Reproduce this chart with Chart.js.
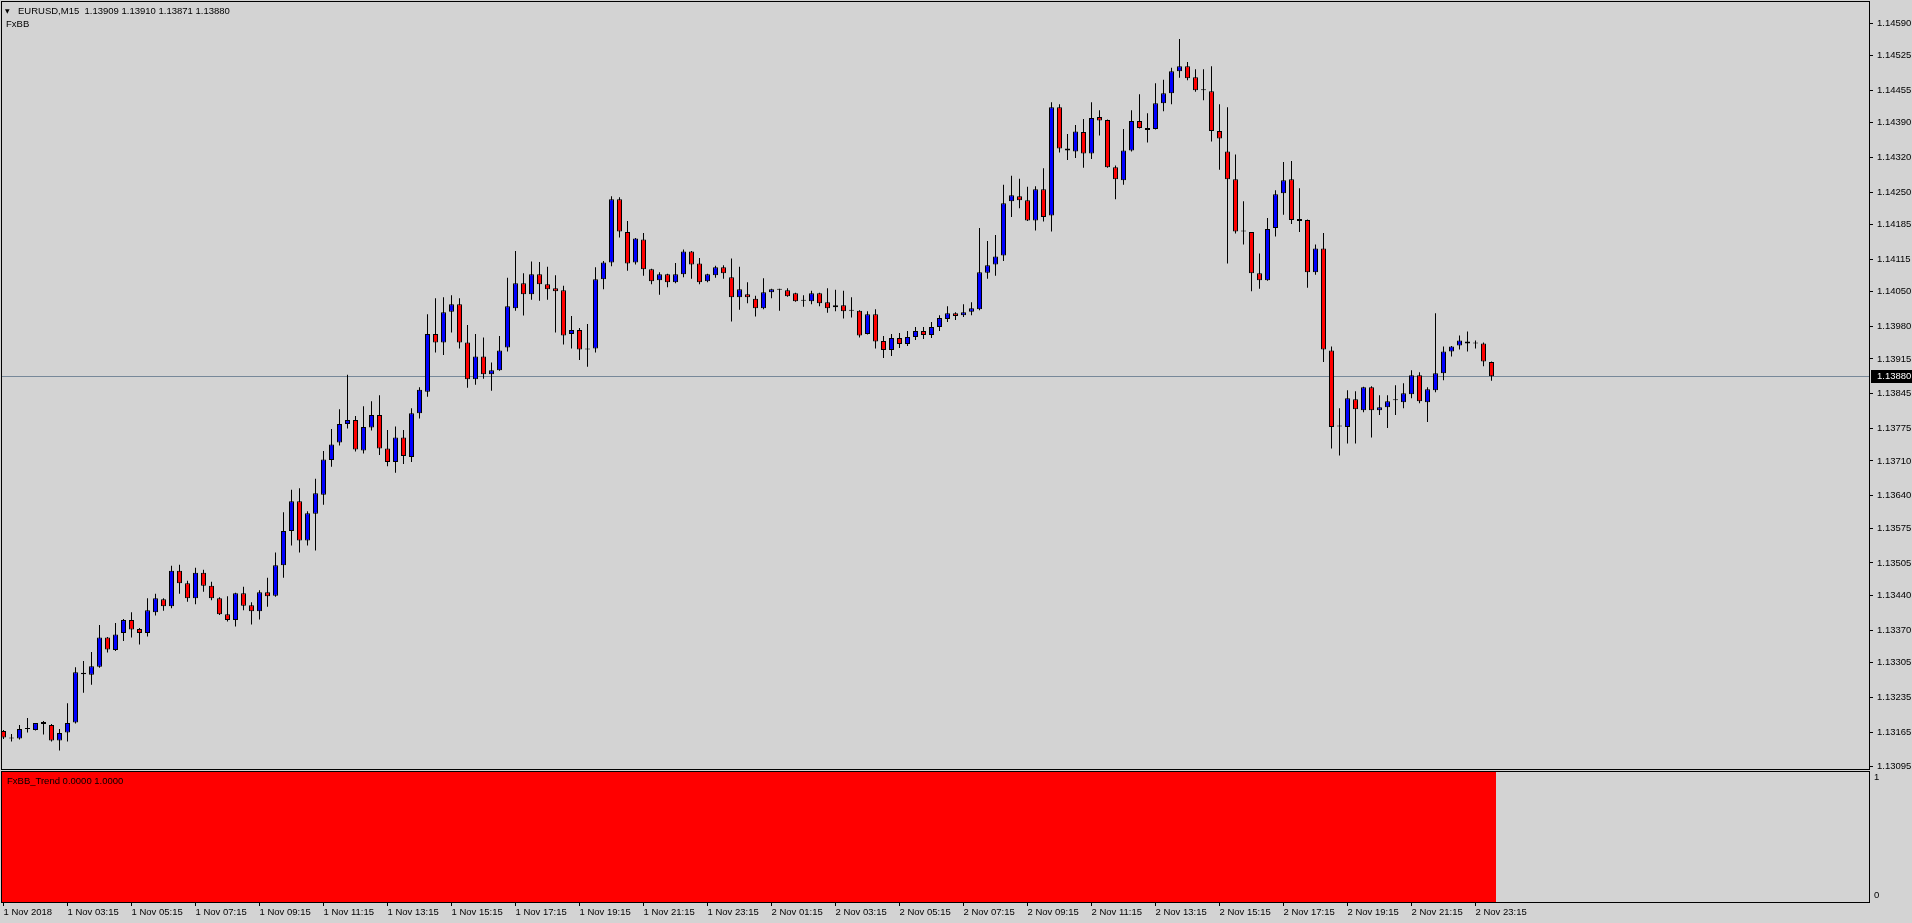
<!DOCTYPE html>
<html>
<head>
<meta charset="utf-8">
<title>EURUSD,M15</title>
<script src="https://cdn.jsdelivr.net/npm/chart.js@4.4.1/dist/chart.umd.min.js"></script>
<style>
  html, body { margin: 0; padding: 0; background: #d3d3d3; overflow: hidden; }
  #wrap { position: relative; width: 1912px; height: 923px; }
  #main { position: absolute; left: 0; top: 0; }
  #ind { position: absolute; left: 0; top: 770px; }
  .lbl { position: absolute; font: 9.5px "Liberation Sans", Arial, sans-serif; color: #000; white-space: pre; line-height: 12px; }
</style>
</head>
<body>
<div id="wrap">
  <canvas id="main" width="1912" height="770"></canvas>
  <canvas id="ind" width="1912" height="153"></canvas>
  <div class="lbl" style="left:5px;top:5px;font-family:'DejaVu Sans';font-size:6px">▼</div>
  <div class="lbl" style="left:18px;top:5px">EURUSD,M15  1.13909 1.13910 1.13871 1.13880</div>
  <div class="lbl" style="left:6px;top:18px">FxBB</div>
  <div class="lbl" style="left:7px;top:775px">FxBB_Trend 0.0000 1.0000</div>
</div>
<script>
// M15 bars, 1 Nov 01:15 .. 2 Nov 23:45
const opens = [
  1.13167, 1.13154, 1.13152, 1.13171, 1.13169, 1.13185, 1.13179, 1.13148, 1.13164, 1.13184,
  1.13284, 1.13280, 1.13296, 1.13355, 1.13330, 1.13364, 1.13390, 1.13372, 1.13364, 1.13406,
  1.13432, 1.13418, 1.13489, 1.13464, 1.13434, 1.13485, 1.13459, 1.13434, 1.13402, 1.13390,
  1.13444, 1.13420, 1.13408, 1.13446, 1.13439, 1.13500, 1.13569, 1.13629, 1.13550, 1.13604,
  1.13642, 1.13712, 1.13747, 1.13784, 1.13792, 1.13731, 1.13777, 1.13802, 1.13735, 1.13708,
  1.13757, 1.13718, 1.13806, 1.13849, 1.13965, 1.13948, 1.14010, 1.14025, 1.13948, 1.13874,
  1.13920, 1.13884, 1.13892, 1.13938, 1.14017, 1.14067, 1.14045, 1.14085, 1.14065, 1.14057,
  1.14053, 1.13965, 1.13973, 1.13934, 1.13936, 1.14075, 1.14109, 1.14236, 1.14170, 1.14109,
  1.14155, 1.14095, 1.14073, 1.14085, 1.14069, 1.14085, 1.14131, 1.14107, 1.14071, 1.14083,
  1.14099, 1.14079, 1.14039, 1.14045, 1.14036, 1.14017, 1.14049, 1.14054, 1.14053, 1.14047,
  1.14032, 1.14031, 1.14047, 1.14029, 1.14019, 1.14023, 1.14012, 1.14012, 1.13965, 1.14005,
  1.13951, 1.13933, 1.13957, 1.13945, 1.13959, 1.13971, 1.13963, 1.13979, 1.13995, 1.14007,
  1.14003, 1.14010, 1.14015, 1.14088, 1.14105, 1.14123, 1.14232, 1.14242, 1.14234, 1.14193,
  1.14256, 1.14203, 1.14421, 1.14338, 1.14332, 1.14371, 1.14328, 1.14401, 1.14395, 1.14300,
  1.14274, 1.14334, 1.14393, 1.14379, 1.14377, 1.14429, 1.14449, 1.14493, 1.14503, 1.14481,
  1.14455, 1.14453, 1.14373, 1.14332, 1.14276, 1.14171, 1.14170, 1.14087, 1.14073, 1.14178,
  1.14248, 1.14276, 1.14196, 1.14194, 1.14089, 1.14137, 1.13932, 1.13779, 1.13778, 1.13834,
  1.13812, 1.13858, 1.13812, 1.13818, 1.13832, 1.13828, 1.13844, 1.13882, 1.13828, 1.13852,
  1.13886, 1.13930, 1.13942, 1.13950, 1.13946, 1.13946, 1.13909
];
const highs = [
  1.13169, 1.13161, 1.13179, 1.13193, 1.13183, 1.13187, 1.13181, 1.13171, 1.13223, 1.13295,
  1.13308, 1.13326, 1.13380, 1.13356, 1.13384, 1.13392, 1.13406, 1.13374, 1.13434, 1.13443,
  1.13434, 1.13499, 1.13501, 1.13469, 1.13495, 1.13491, 1.13467, 1.13436, 1.13438, 1.13445,
  1.13457, 1.13426, 1.13450, 1.13475, 1.13526, 1.13607, 1.13652, 1.13655, 1.13609, 1.13674,
  1.13730, 1.13774, 1.13814, 1.13883, 1.13800, 1.13820, 1.13830, 1.13842, 1.13772, 1.13779,
  1.13772, 1.13816, 1.13858, 1.14005, 1.14037, 1.14039, 1.14043, 1.14037, 1.13983, 1.13965,
  1.13958, 1.13908, 1.13961, 1.14078, 1.14132, 1.14087, 1.14111, 1.14110, 1.14100, 1.14083,
  1.14062, 1.14001, 1.13977, 1.13985, 1.14099, 1.14112, 1.14242, 1.14240, 1.14192, 1.14158,
  1.14168, 1.14096, 1.14089, 1.14086, 1.14108, 1.14135, 1.14132, 1.14118, 1.14086, 1.14102,
  1.14103, 1.14117, 1.14100, 1.14069, 1.14042, 1.14077, 1.14056, 1.14056, 1.14057, 1.14048,
  1.14043, 1.14052, 1.14048, 1.14057, 1.14054, 1.14052, 1.14039, 1.14013, 1.14011, 1.14015,
  1.13961, 1.13965, 1.13967, 1.13971, 1.13979, 1.13979, 1.13989, 1.14003, 1.14021, 1.14009,
  1.14025, 1.14029, 1.14178, 1.14152, 1.14164, 1.14265, 1.14283, 1.14277, 1.14261, 1.14262,
  1.14298, 1.14431, 1.14427, 1.14367, 1.14385, 1.14397, 1.14431, 1.14415, 1.14396, 1.14304,
  1.14377, 1.14415, 1.14447, 1.14409, 1.14469, 1.14476, 1.14500, 1.14558, 1.14512, 1.14497,
  1.14497, 1.14503, 1.14427, 1.14421, 1.14326, 1.14232, 1.14170, 1.14127, 1.14198, 1.14254,
  1.14311, 1.14313, 1.14258, 1.14195, 1.14145, 1.14168, 1.13940, 1.13816, 1.13852, 1.13850,
  1.13859, 1.13860, 1.13842, 1.13842, 1.13862, 1.13866, 1.13892, 1.13888, 1.13858, 1.14007,
  1.13940, 1.13941, 1.13962, 1.13970, 1.13952, 1.13948, 1.13910
];
const lows = [
  1.13151, 1.13146, 1.13150, 1.13164, 1.13168, 1.13160, 1.13146, 1.13128, 1.13146, 1.13182,
  1.13244, 1.13260, 1.13294, 1.13325, 1.13328, 1.13348, 1.13355, 1.13341, 1.13357, 1.13399,
  1.13409, 1.13414, 1.13443, 1.13427, 1.13422, 1.13447, 1.13430, 1.13400, 1.13387, 1.13377,
  1.13410, 1.13381, 1.13391, 1.13417, 1.13437, 1.13475, 1.13540, 1.13526, 1.13540, 1.13530,
  1.13622, 1.13698, 1.13741, 1.13775, 1.13729, 1.13725, 1.13771, 1.13722, 1.13699, 1.13686,
  1.13704, 1.13708, 1.13795, 1.13839, 1.13928, 1.13923, 1.13968, 1.13936, 1.13857, 1.13863,
  1.13875, 1.13851, 1.13891, 1.13930, 1.14012, 1.14002, 1.14034, 1.14032, 1.14034, 1.13968,
  1.13944, 1.13936, 1.13913, 1.13899, 1.13928, 1.14055, 1.14101, 1.14159, 1.14092, 1.14105,
  1.14082, 1.14065, 1.14044, 1.14059, 1.14067, 1.14079, 1.14076, 1.14065, 1.14069, 1.14078,
  1.14076, 1.13990, 1.14014, 1.14027, 1.14000, 1.14015, 1.14037, 1.14012, 1.14040, 1.14030,
  1.14020, 1.14025, 1.14021, 1.14008, 1.14011, 1.13996, 1.13998, 1.13958, 1.13964, 1.13936,
  1.13917, 1.13921, 1.13937, 1.13941, 1.13953, 1.13955, 1.13957, 1.13971, 1.13989, 1.13993,
  1.13999, 1.14003, 1.14013, 1.14076, 1.14082, 1.14112, 1.14200, 1.14218, 1.14192, 1.14173,
  1.14191, 1.14171, 1.14330, 1.14315, 1.14319, 1.14299, 1.14317, 1.14364, 1.14299, 1.14236,
  1.14265, 1.14332, 1.14378, 1.14350, 1.14376, 1.14413, 1.14427, 1.14480, 1.14475, 1.14452,
  1.14435, 1.14352, 1.14295, 1.14107, 1.14167, 1.14145, 1.14051, 1.14056, 1.14072, 1.14161,
  1.14205, 1.14186, 1.14170, 1.14058, 1.14084, 1.13909, 1.13735, 1.13721, 1.13745, 1.13745,
  1.13808, 1.13757, 1.13802, 1.13776, 1.13802, 1.13816, 1.13836, 1.13826, 1.13788, 1.13848,
  1.13872, 1.13920, 1.13934, 1.13930, 1.13936, 1.13900, 1.13871
];
const closes = [
  1.13154, 1.13152, 1.13171, 1.13171, 1.13183, 1.13181, 1.13148, 1.13163, 1.13183, 1.13285,
  1.13281, 1.13297, 1.13355, 1.13331, 1.13361, 1.13390, 1.13371, 1.13364, 1.13410, 1.13434,
  1.13418, 1.13489, 1.13464, 1.13434, 1.13485, 1.13459, 1.13434, 1.13402, 1.13390, 1.13444,
  1.13419, 1.13408, 1.13446, 1.13438, 1.13500, 1.13569, 1.13629, 1.13550, 1.13605, 1.13645,
  1.13713, 1.13743, 1.13784, 1.13792, 1.13733, 1.13778, 1.13802, 1.13735, 1.13708, 1.13757,
  1.13720, 1.13806, 1.13853, 1.13965, 1.13948, 1.14009, 1.14025, 1.13948, 1.13874, 1.13920,
  1.13884, 1.13892, 1.13932, 1.14021, 1.14067, 1.14045, 1.14085, 1.14065, 1.14055, 1.14051,
  1.13962, 1.13973, 1.13934, 1.13934, 1.14075, 1.14109, 1.14236, 1.14171, 1.14107, 1.14157,
  1.14095, 1.14071, 1.14085, 1.14069, 1.14085, 1.14131, 1.14105, 1.14069, 1.14085, 1.14099,
  1.14087, 1.14039, 1.14055, 1.14039, 1.14017, 1.14049, 1.14055, 1.14054, 1.14041, 1.14031,
  1.14032, 1.14047, 1.14027, 1.14017, 1.14023, 1.14011, 1.14012, 1.13962, 1.14005, 1.13950,
  1.13933, 1.13957, 1.13945, 1.13959, 1.13971, 1.13963, 1.13979, 1.13997, 1.14007, 1.14001,
  1.14009, 1.14017, 1.14089, 1.14103, 1.14121, 1.14228, 1.14244, 1.14234, 1.14193, 1.14256,
  1.14200, 1.14421, 1.14338, 1.14334, 1.14372, 1.14328, 1.14399, 1.14394, 1.14300, 1.14276,
  1.14334, 1.14393, 1.14379, 1.14375, 1.14429, 1.14449, 1.14493, 1.14503, 1.14479, 1.14455,
  1.14455, 1.14373, 1.14358, 1.14276, 1.14171, 1.14171, 1.14087, 1.14073, 1.14176, 1.14246,
  1.14274, 1.14194, 1.14192, 1.14089, 1.14137, 1.13934, 1.13778, 1.13779, 1.13836, 1.13814,
  1.13858, 1.13812, 1.13818, 1.13830, 1.13832, 1.13846, 1.13882, 1.13830, 1.13854, 1.13886,
  1.13930, 1.13940, 1.13952, 1.13946, 1.13946, 1.13910, 1.13880
];

// FxBB_Trend histogram (1 = down trend, drawn red)
const trendValues = [
  1, 1, 1, 1, 1, 1, 1, 1, 1, 1, 1, 1, 1, 1, 1, 1, 1, 1, 1, 1,
  1, 1, 1, 1, 1, 1, 1, 1, 1, 1, 1, 1, 1, 1, 1, 1, 1, 1, 1, 1,
  1, 1, 1, 1, 1, 1, 1, 1, 1, 1, 1, 1, 1, 1, 1, 1, 1, 1, 1, 1,
  1, 1, 1, 1, 1, 1, 1, 1, 1, 1, 1, 1, 1, 1, 1, 1, 1, 1, 1, 1,
  1, 1, 1, 1, 1, 1, 1, 1, 1, 1, 1, 1, 1, 1, 1, 1, 1, 1, 1, 1,
  1, 1, 1, 1, 1, 1, 1, 1, 1, 1, 1, 1, 1, 1, 1, 1, 1, 1, 1, 1,
  1, 1, 1, 1, 1, 1, 1, 1, 1, 1, 1, 1, 1, 1, 1, 1, 1, 1, 1, 1,
  1, 1, 1, 1, 1, 1, 1, 1, 1, 1, 1, 1, 1, 1, 1, 1, 1, 1, 1, 1,
  1, 1, 1, 1, 1, 1, 1, 1, 1, 1, 1, 1, 1, 1, 1, 1, 1, 1, 1, 1,
  1, 1, 1, 1, 1, 1, 1
];

// time axis: a label every 8 bars
const tickBars = [0, 8, 16, 24, 32, 40, 48, 56, 64, 72, 80, 88, 96, 104, 112, 120, 128, 136, 144, 152, 160, 168, 176, 184];
const timeLabels = [
  '1 Nov 2018', '1 Nov 03:15', '1 Nov 05:15', '1 Nov 07:15', '1 Nov 09:15', '1 Nov 11:15',
  '1 Nov 13:15', '1 Nov 15:15', '1 Nov 17:15', '1 Nov 19:15', '1 Nov 21:15', '1 Nov 23:15',
  '2 Nov 01:15', '2 Nov 03:15', '2 Nov 05:15', '2 Nov 07:15', '2 Nov 09:15', '2 Nov 11:15',
  '2 Nov 13:15', '2 Nov 15:15', '2 Nov 17:15', '2 Nov 19:15', '2 Nov 21:15', '2 Nov 23:15'
];

const priceTicks = [
  1.14590, 1.14525, 1.14455, 1.14390, 1.14320, 1.14250, 1.14185, 1.14115, 1.14050, 1.13980,
  1.13915, 1.13845, 1.13775, 1.13710, 1.13640, 1.13575, 1.13505, 1.13440, 1.13370, 1.13305,
  1.13235, 1.13165, 1.13095
];
const bidPrice = 1.13880;

// visible window
const priceMin = 1.130907, priceMax = 1.146344;
const barMin = -0.3125, barMax = 233.1875;

Chart.defaults.font.family = '"Liberation Sans", Arial, sans-serif';
Chart.defaults.font.size = 9.5;
Chart.defaults.color = '#000';

function candleColor(i) {
  if (closes[i] > opens[i]) return '#0000ff';
  if (closes[i] < opens[i]) return '#ff0000';
  return '#000000';
}

// black frame round the plot area
const framePlugin = {
  id: 'frame',
  afterDraw(chart) {
    const { ctx, chartArea: a } = chart;
    ctx.save();
    ctx.strokeStyle = '#000';
    ctx.lineWidth = 1;
    ctx.strokeRect(a.left + 0.5, a.top + 0.5, a.right - a.left, a.bottom - a.top);
    ctx.restore();
  }
};

// bid line + price tag on the right scale
const bidPlugin = {
  id: 'bid',
  beforeDatasetsDraw(chart) {
    const { ctx, chartArea: a } = chart;
    const y = Math.round(chart.scales.y.getPixelForValue(bidPrice)) + 0.5;
    ctx.save();
    ctx.strokeStyle = '#778899';
    ctx.lineWidth = 1;
    ctx.beginPath();
    ctx.moveTo(a.left, y);
    ctx.lineTo(a.right, y);
    ctx.stroke();
    ctx.restore();
  },
  afterDraw(chart) {
    const { ctx, chartArea: a } = chart;
    const y = Math.round(chart.scales.y.getPixelForValue(bidPrice));
    ctx.save();
    ctx.fillStyle = '#000';
    ctx.fillRect(a.right + 2, y - 6, 43, 13);
    ctx.fillStyle = '#fff';
    ctx.font = Chart.defaults.font.size + 'px ' + Chart.defaults.font.family;
    ctx.textBaseline = 'middle';
    ctx.fillText(bidPrice.toFixed(5), a.right + 8, y + 0.5);
    ctx.restore();
  }
};

const bodyData = opens.map((o, i) => ({ x: i, y: [o, closes[i]] }));
const wickData = highs.map((h, i) => ({ x: i, y: [lows[i], h] }));

new Chart(document.getElementById('main'), {
  type: 'bar',
  data: {
    datasets: [
      {
        label: 'body',
        data: bodyData,
        order: 0,
        grouped: false,
        barThickness: 5,
        minBarLength: 1,
        backgroundColor: opens.map((o, i) => candleColor(i)),
        borderColor: '#000',
        borderWidth: 1,
        borderSkipped: false,
        inflateAmount: 0
      },
      {
        label: 'wick',
        data: wickData,
        order: 1,
        grouped: false,
        barThickness: 1,
        backgroundColor: '#000',
        borderWidth: 0,
        inflateAmount: 0
      }
    ]
  },
  options: {
    responsive: false,
    animation: false,
    events: [],
    layout: { padding: { left: 1, top: 1, right: 0, bottom: 1 } },
    plugins: { legend: { display: false }, tooltip: { enabled: false } },
    scales: {
      x: { type: 'linear', display: false, min: barMin, max: barMax, offset: false, bounds: 'data' },
      y: {
        position: 'right',
        min: priceMin,
        max: priceMax,
        bounds: 'data',
        afterBuildTicks: s => { s.ticks = priceTicks.map(v => ({ value: v })); },
        afterFit: s => { s.width = 43; s.paddingTop = 0; s.paddingBottom = 0; },
        border: { display: false },
        grid: { drawOnChartArea: false, drawTicks: true, tickLength: 4, color: '#000' },
        ticks: { padding: 4, autoSkip: false, callback: v => v.toFixed(5) }
      }
    }
  },
  plugins: [bidPlugin, framePlugin]
});

new Chart(document.getElementById('ind'), {
  type: 'bar',
  data: {
    datasets: [{
      label: 'FxBB_Trend',
      data: trendValues.map((v, i) => ({ x: i, y: v })),
      backgroundColor: '#ff0000',
      barThickness: 9,
      borderWidth: 0,
      inflateAmount: 0
    }]
  },
  options: {
    responsive: false,
    animation: false,
    events: [],
    layout: { padding: { left: 1, top: 1, right: 0, bottom: 0 } },
    plugins: { legend: { display: false }, tooltip: { enabled: false } },
    scales: {
      x: {
        type: 'linear',
        position: 'bottom',
        min: barMin,
        max: barMax,
        offset: false,
        bounds: 'data',
        afterBuildTicks: s => { s.ticks = tickBars.map(v => ({ value: v })); },
        afterFit: s => { s.height = 21; s.paddingLeft = 0; s.paddingRight = 0; },
        border: { display: false },
        grid: { drawOnChartArea: false, drawTicks: true, tickLength: 4, color: '#000', offset: false },
        ticks: { autoSkip: false, maxRotation: 0, minRotation: 0, align: 'start', padding: 1,
                 callback: (v, i) => timeLabels[i] }
      },
      y: {
        position: 'right',
        min: 0,
        max: 1,
        bounds: 'data',
        afterBuildTicks: s => { s.ticks = [{ value: 0.05 }, { value: 0.95 }]; },
        afterFit: s => { s.width = 43; s.paddingTop = 0; s.paddingBottom = 0; },
        border: { display: false },
        grid: { drawOnChartArea: false, drawTicks: false },
        ticks: { padding: 5, callback: v => (v > 0.5 ? '1' : '0') }
      }
    }
  },
  plugins: [framePlugin]
});
</script>
</body>
</html>
